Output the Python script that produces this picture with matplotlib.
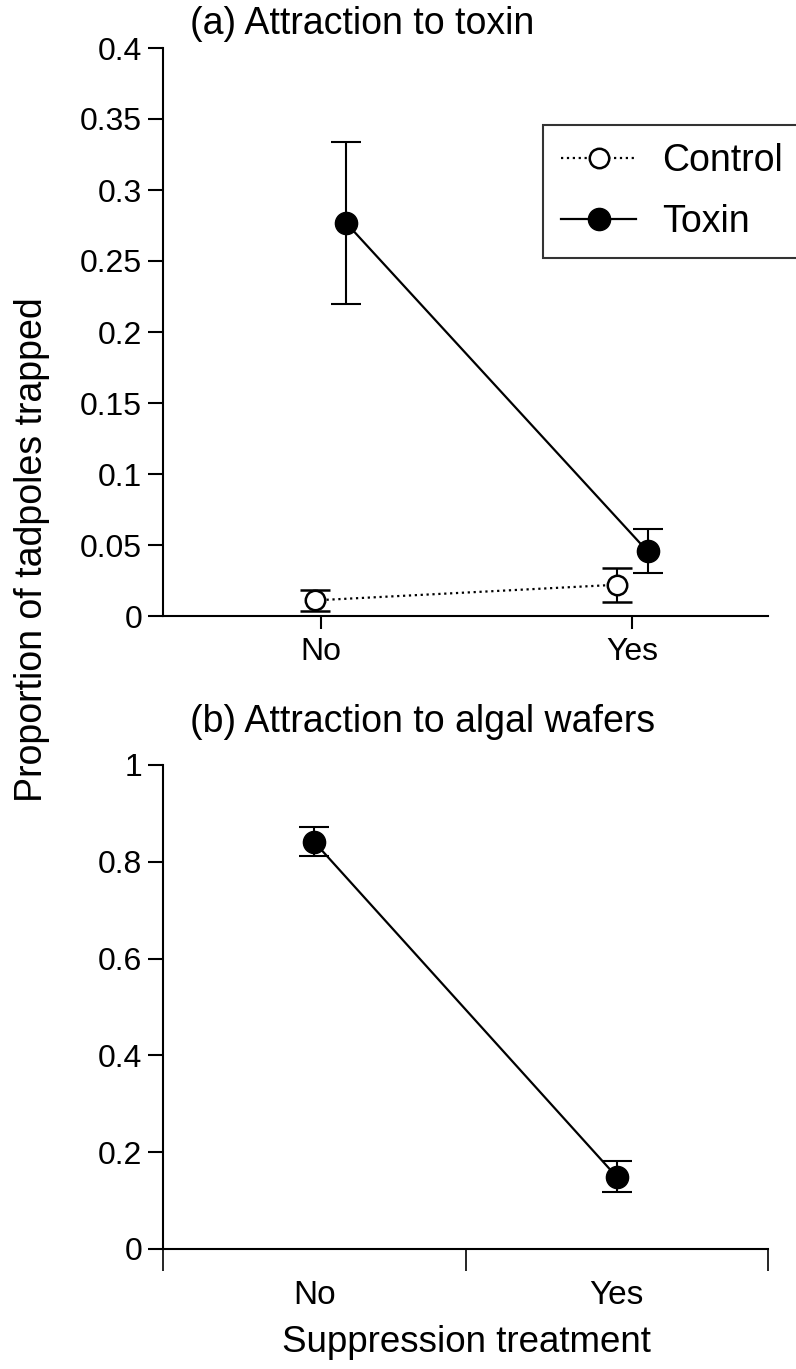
import matplotlib
matplotlib.use("Agg")
import matplotlib.pyplot as plt
from matplotlib.lines import Line2D

plt.rcParams['font.family'] = ['Liberation Sans', 'DejaVu Sans']

# data
categories = ['No', 'Yes']
control_mean = [0.011, 0.022]
control_se = [0.0075, 0.012]
toxin_mean = [0.277, 0.0455]
toxin_se = [0.057, 0.0155]
algal_mean = [0.841, 0.149]
algal_se = [0.030, 0.032]

W, H = 796, 1369
fig = plt.figure(figsize=(W / 100, H / 100), dpi=100)

def fx(px):
    return px / W

def fy(py):
    return 1 - py / H

lw = 1.5
tick_fs = 23
ax1 = fig.add_axes([fx(163), fy(616), fx(768) - fx(163), fy(48) - fy(616)])
ax2 = fig.add_axes([fx(163), fy(1249), fx(768) - fx(163), fy(765) - fy(1249)])

for ax in (ax1, ax2):
    for s in ('top', 'right'):
        ax.spines[s].set_visible(False)
    for s in ('left', 'bottom'):
        ax.spines[s].set_linewidth(lw)
    ax.tick_params(axis='y', direction='out', length=11, width=lw, labelsize=tick_fs, pad=4)

# panel (a)
xs = [0, 1]
ctrl_x = [x + d for x, d in zip(xs, [-0.02, -0.05])]
tox_x = [x + d for x, d in zip(xs, [0.08, 0.05])]
ax1.errorbar(ctrl_x, control_mean, yerr=control_se, fmt='o', ls=':', color='black',
             mfc='white', mec='black', mew=1.8, ms=14, lw=1.6, capsize=11, capthick=lw,
             elinewidth=lw, zorder=3)
ax1.errorbar(tox_x, toxin_mean, yerr=toxin_se, fmt='o', ls='-', color='black',
             ms=16, lw=1.6, capsize=11, capthick=lw, elinewidth=lw, zorder=3)
ax1.set_xlim(-0.508, 1.437)
ax1.set_ylim(0, 0.4)
ax1.set_yticks([0, 0.05, 0.1, 0.15, 0.2, 0.25, 0.3, 0.35, 0.4])
ax1.set_yticklabels(['0', '0.05', '0.1', '0.15', '0.2', '0.25', '0.3', '0.35', '0.4'])
ax1.set_xticks(xs)
ax1.set_xticklabels(categories)
ax1.tick_params(axis='x', direction='out', length=9, width=lw, labelsize=tick_fs, pad=6)

handles = [
    Line2D([], [], ls=':', color='black', lw=1.6, marker='o', mfc='white', mec='black', mew=1.8, ms=14),
    Line2D([], [], ls='-', color='black', lw=1.6, marker='o', ms=16),
]
leg = fig.legend(handles, ['Control', 'Toxin'], loc='upper left',
                 bbox_to_anchor=(fx(543), fy(125)), fontsize=27, frameon=True,
                 fancybox=False, edgecolor='black', handlelength=2.0,
                 handletextpad=0.7, labelspacing=0.66, borderpad=0.48, borderaxespad=0)
leg.get_frame().set_linewidth(lw)

fig.text(fx(190), fy(24), '(a) Attraction to toxin', fontsize=27, va='center', ha='left')

# panel (b)
ax2.errorbar(xs, algal_mean, yerr=algal_se, fmt='o', ls='-', color='black',
             ms=16, lw=1.6, capsize=11, capthick=lw, elinewidth=lw, zorder=3)
ax2.set_xlim(-0.5, 1.5)
ax2.set_ylim(0, 1)
ax2.set_yticks([0, 0.2, 0.4, 0.6, 0.8, 1])
ax2.set_yticklabels(['0', '0.2', '0.4', '0.6', '0.8', '1'])
ax2.set_xticks([-0.5, 0.5, 1.5])
ax2.set_xticklabels([])
ax2.set_xticks(xs, minor=True)
ax2.set_xticklabels(categories, minor=True)
ax2.tick_params(axis='x', which='major', direction='out', length=16, width=1.2)
ax2.tick_params(axis='x', which='minor', length=0, labelsize=24, pad=22)

fig.text(fx(190), fy(722), '(b) Attraction to algal wafers', fontsize=27, va='center', ha='left')

fig.text(fx(32), fy(550), 'Proportion of tadpoles trapped', fontsize=27, rotation=90,
         va='center', ha='center')
fig.text(fx(466), fy(1342), 'Suppression treatment', fontsize=26.5, va='center', ha='center')

fig.savefig('out.png', dpi=100)
